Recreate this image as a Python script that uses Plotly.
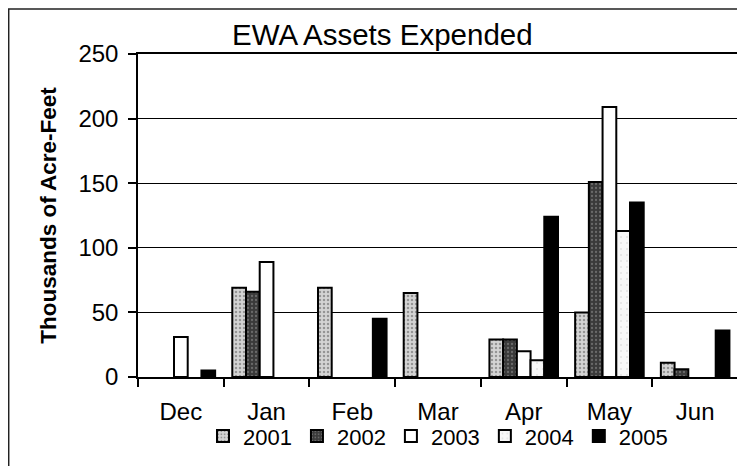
import plotly.graph_objects as go

months = ["Dec", "Jan", "Feb", "Mar", "Apr", "May", "Jun"]
y2001 = [None, 69, 69, 65, 29, 50, 11]
y2002 = [None, 66, None, None, 29, 151, 6]
y2003 = [31, 89, None, None, 20, 209, None]
y2004 = [None, None, None, None, 13, 113, None]
y2005 = [5, None, 45, None, 124, 135, 36]
y_ticks = [0, 50, 100, 150, 200, 250]

FONT = "Liberation Sans, Arial, sans-serif"

series = [
    ("2001", y2001, "#d4d4d4", dict(shape=".", fgcolor="#555555", size=4, solidity=0.3)),
    ("2002", y2002, "#3a3a3a", dict(shape=".", fgcolor="#9a9a9a", size=4, solidity=0.25)),
    ("2003", y2003, "#ffffff", None),
    ("2004", y2004, "#f7f7f7", dict(shape=".", fgcolor="#cccccc", size=6, solidity=0.1)),
    ("2005", y2005, "#000000", None),
]

fig = go.Figure()
for name, vals, col, pat in series:
    marker = dict(color=col, line=dict(color="#000000", width=2))
    if pat:
        marker["pattern"] = pat
    fig.add_trace(go.Bar(name=name, x=months, y=vals, marker=marker))

# page body has an 8px margin, so the figure is 8px smaller and shifted
fig.update_layout(
    width=737, height=458,
    margin=dict(l=130, r=7, t=46, b=89, autoexpand=False),
    paper_bgcolor="white", plot_bgcolor="white",
    barmode="group", bargap=0.2, bargroupgap=0,
    font=dict(family=FONT, size=24, color="#000000"),
    showlegend=True,
    legend=dict(orientation="h", x=0.5, xanchor="center", y=-0.183, yanchor="middle",
                font=dict(size=22), itemwidth=30, tracegroupgap=0,
                bgcolor="rgba(0,0,0,0)"),
)

fig.update_xaxes(
    type="category", tickson="boundaries", ticks="outside", ticklen=8,
    tickcolor="#000000", tickwidth=1.5, showline=True, linecolor="#000000",
    linewidth=1.5, mirror=True, showgrid=False, tickfont=dict(size=24),
    ticklabelstandoff=12, automargin=False,
)
fig.update_yaxes(
    range=[0, 250], tickvals=y_ticks, ticks="outside", ticklen=8,
    tickcolor="#000000", tickwidth=1.5, showline=True, linecolor="#000000",
    linewidth=1.5, mirror=True, showgrid=True, gridcolor="#000000", gridwidth=1,
    tickfont=dict(size=24), ticklabelstandoff=5, automargin=False,
    title=dict(text="<b>Thousands of Acre-Feet</b>", font=dict(size=22.5), standoff=16),
    zeroline=False,
)

fig.add_annotation(
    text="EWA Assets Expended", xref="paper", yref="paper", x=0.408, y=1,
    xanchor="center", yanchor="bottom", yshift=1, showarrow=False,
    font=dict(size=29.5, family=FONT),
)

fig.add_shape(
    type="rect", xref="paper", yref="paper", x0=-0.2155, x1=1.2, y0=-0.5, y1=1.139,
    line=dict(color="#222222", width=1.5), fillcolor="rgba(0,0,0,0)", layer="below",
)

fig.write_html("out.html")
